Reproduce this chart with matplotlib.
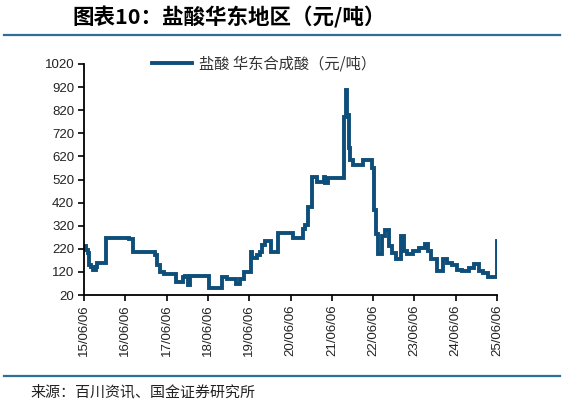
import matplotlib
matplotlib.use("Agg")
import matplotlib.pyplot as plt
import pandas as pd

plt.rcParams['font.family'] = ['Noto Sans CJK SC', 'DejaVu Sans']

title = "图表10：盐酸华东地区（元/吨）"
series_name = "盐酸 华东合成酸（元/吨）"
source = "来源：百川资讯、国金证券研究所"

# step-change dates and prices (元/吨)
dates = [
    "2015-06-06", "2015-06-20", "2015-07-08", "2015-07-20", "2015-08-07", "2015-08-25",
    "2015-09-20", "2015-10-01", "2015-12-20", "2016-07-08", "2016-08-14", "2017-02-25",
    "2017-03-15", "2017-04-08", "2017-05-15", "2017-08-25", "2017-10-27", "2017-11-18",
    "2017-12-12", "2017-12-28", "2018-06-14", "2018-10-12", "2018-11-18", "2019-02-06",
    "2019-03-15", "2019-04-20", "2019-06-20", "2019-07-05", "2019-08-10", "2019-09-10",
    "2019-10-01", "2019-10-25", "2019-12-20", "2020-02-20", "2020-05-05", "2020-06-28",
    "2020-09-28", "2020-10-15", "2020-11-10", "2020-12-10", "2021-01-25", "2021-03-25",
    "2021-04-10", "2021-05-05", "2021-06-05", "2021-09-22", "2021-10-10", "2021-10-22",
    "2021-11-05", "2021-11-18", "2021-12-10", "2022-01-15", "2022-03-10", "2022-05-25",
    "2022-06-10", "2022-07-01", "2022-07-20", "2022-08-20", "2022-09-20", "2022-10-22",
    "2022-11-20", "2022-12-28", "2023-02-10", "2023-03-07", "2023-04-01", "2023-05-25",
    "2023-07-20", "2023-09-05", "2023-10-01", "2023-10-28", "2023-12-20", "2024-02-15",
    "2024-03-20", "2024-05-01", "2024-06-15", "2024-07-30", "2024-09-30", "2024-11-15",
    "2024-12-25", "2025-02-01", "2025-03-20", "2025-05-15", "2025-06-06",
]
prices = [
    230, 215, 200, 150, 140, 128,
    140, 157, 268, 262, 207, 193,
    150, 118, 112, 75, 99, 104,
    63, 104, 50, 98, 88, 66,
    88, 121, 206, 180, 193, 205,
    236, 252, 207, 288, 287, 265,
    305, 323, 402, 530, 510, 532,
    505, 525, 527, 790, 908, 800,
    657, 605, 583, 583, 605, 570,
    388, 284, 197, 275, 301, 232,
    202, 176, 275, 210, 197, 210,
    223, 240, 210, 176, 124, 176,
    159, 150, 128, 124, 137, 154,
    124, 115, 100, 100, 254,
]

yticks = list(range(20, 1021, 100))
xtick_dates = [f"{y}-06-06" for y in range(2015, 2026)]
xtick_labels = [f"{y % 100:02d}/06/06" for y in range(2015, 2026)]

line_color = "#0d4e7a"
rule_color = "#2c6f98"

fig = plt.figure(figsize=(5.63, 4.03), dpi=100)
ax = fig.add_axes([84 / 563, 1 - 295 / 403, (497 - 84) / 563, (295 - 64) / 403])

x = pd.to_datetime(dates)
ax.plot(x, prices, drawstyle="steps-post", color=line_color, lw=2.8,
        solid_joinstyle="miter", label=series_name)

ax.set_ylim(20, 1020)
ax.set_yticks(yticks)
ax.set_xlim(pd.Timestamp("2015-06-06"), pd.Timestamp("2025-06-06"))
ax.set_xticks(pd.to_datetime(xtick_dates))
ax.set_xticklabels(xtick_labels, rotation=90, family=['Liberation Sans'], fontsize=9.5, color="#222222")
for lab in ax.get_yticklabels():
    lab.set_family(['Liberation Sans'])
    lab.set_fontsize(9.5)
    lab.set_color("#222222")

for s in ["top", "right"]:
    ax.spines[s].set_visible(False)
for s in ["left", "bottom"]:
    ax.spines[s].set_linewidth(1.3)
    ax.spines[s].set_color("black")
ax.tick_params(axis="both", direction="out", length=4, width=1.2, pad=3)

leg = ax.legend(loc="upper left", bbox_to_anchor=(0.15, 1.065), frameon=False,
                handlelength=2.6, fontsize=11, borderaxespad=0, handletextpad=0.5)
for t in leg.get_texts():
    t.set_color("#333333")

fig.text(72 / 563, 1 - 17 / 403, title, fontsize=15.5, fontweight="bold",
         va="center", ha="left", color="black")
fig.add_artist(plt.Line2D([4 / 563, 560 / 563], [1 - 35 / 403, 1 - 35 / 403],
                          color=rule_color, lw=1.6))
fig.add_artist(plt.Line2D([4 / 563, 560 / 563], [1 - 376 / 403, 1 - 376 / 403],
                          color=rule_color, lw=1.6))
fig.text(30 / 563, 1 - 392 / 403, source, fontsize=10.8, va="center", ha="left", color="#222222")

fig.savefig("out.png", dpi=100)
